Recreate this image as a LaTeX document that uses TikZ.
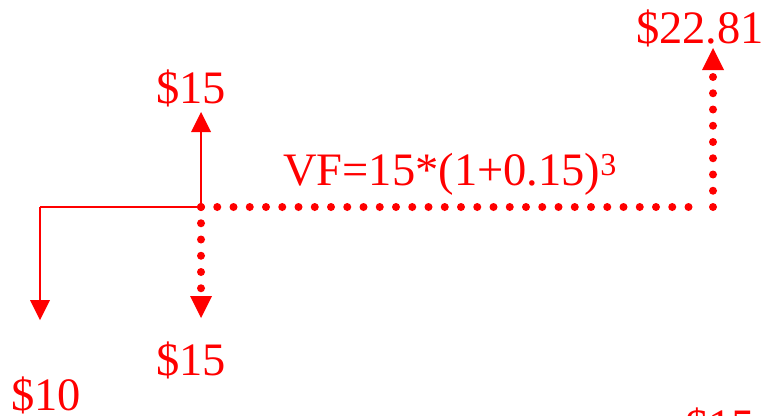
\documentclass[tikz,border=0pt]{standalone}
\usepackage{fontspec}
\setmainfont{Liberation Serif}
\usetikzlibrary{arrows.meta}
\definecolor{fcrojo}{HTML}{FF0000}
\tikzset{
  fcmonto/.style={text=fcrojo, font=\fontsize{46.5}{54}\selectfont, inner sep=0pt, anchor=base west},
  fcflecha/.style={-{Triangle[length=20pt, width=20pt, line width=0pt]}, draw=fcrojo, line width=2.2pt},
  fcpunteada/.style={draw=fcrojo, line width=8pt, line cap=round, dash pattern=on 0pt off 16.25pt},
  fcpuntflecha/.style={fcpunteada, -{Triangle[length=22pt, width=22pt, line width=0pt]}},
}

\begin{document}
\begin{tikzpicture}[x=1pt, y=-1pt]
  \clip (0,0) rectangle (763,415);
  % linea de tiempo
  \coordinate (t0) at (40,207);
  \coordinate (t1) at (201,207);
  \coordinate (t4) at (713,207);
  % puntas de las flechas
  \coordinate (p10) at (40,320);
  \coordinate (p15a) at (201,112);
  \coordinate (p15b) at (201,318);
  \coordinate (p22) at (713,48);
  % montos
  \node[fcmonto] (m10) at (11,410) {\$10};
  \node[fcmonto] (m15a) at (156,103) {\$15};
  \node[fcmonto] (m15b) at (156,375) {\$15};
  \node[fcmonto] (m22) at (636,43) {\$22.81};
  \node[fcmonto] (m15c) at (685,441) {\$15};
  \node[fcmonto] (vf) at (283,185) {VF=15*(1+0.15)\raisebox{10pt}{\fontsize{32}{32}\selectfont 3}};
  \draw[draw=fcrojo, line width=2.2pt] (t0) -- (t1);
  \draw[fcflecha] (t0) -- (p10);
  \draw[fcflecha] (t1) -- (p15a);
  \draw[fcpuntflecha] (t1) -- (p15b);
  \draw[fcpunteada] (t1) -- ([xshift=-24pt]t4);
  \draw[fcpuntflecha] (t4) -- (p22);
\end{tikzpicture}
\end{document}
